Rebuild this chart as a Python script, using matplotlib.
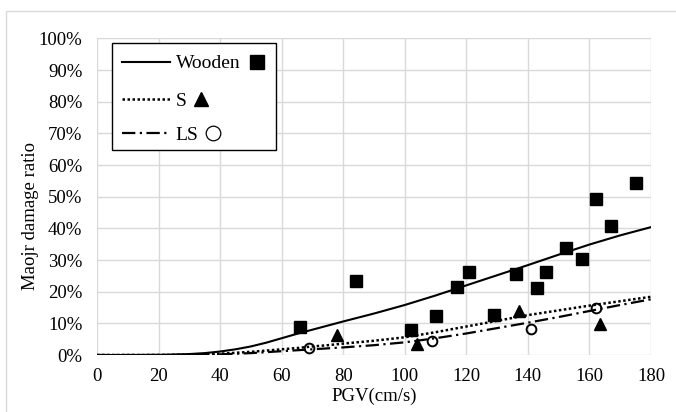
import matplotlib
matplotlib.use("Agg")
import matplotlib.pyplot as plt
from matplotlib.lines import Line2D
from matplotlib.patches import Rectangle

# ---- data ----
wood_pgv = [66, 84, 102, 110, 117, 121, 129, 136, 143, 146, 152.5, 157.5, 162, 167, 175]
wood_ratio = [0.09, 0.235, 0.08, 0.122, 0.216, 0.262, 0.125, 0.256, 0.212, 0.262, 0.339, 0.302, 0.493, 0.407, 0.545]

s_pgv = [78, 104, 137, 163.5]
s_ratio = [0.063, 0.036, 0.14, 0.097]

ls_pgv = [69, 109, 141, 162]
ls_ratio = [0.021, 0.043, 0.083, 0.15]

curve_pgv = [0, 10, 20, 25, 30, 35, 40, 45, 50, 55, 60, 65, 70, 75, 80, 90, 100, 110, 120, 130, 140, 150, 160, 170, 180]
wood_curve = [0, 0, 0.0005, 0.0015, 0.003, 0.006, 0.011, 0.018, 0.027, 0.039, 0.053, 0.067, 0.080, 0.093, 0.106, 0.131, 0.158, 0.188, 0.220, 0.252, 0.284, 0.317, 0.349, 0.378, 0.404]
s_curve = [0, 0, 0, 0.0005, 0.001, 0.002, 0.004, 0.007, 0.010, 0.014, 0.018, 0.022, 0.027, 0.031, 0.036, 0.045, 0.056, 0.072, 0.090, 0.108, 0.126, 0.141, 0.156, 0.170, 0.184]
ls_curve = [0, 0, 0, 0.0002, 0.0005, 0.001, 0.002, 0.004, 0.006, 0.009, 0.012, 0.015, 0.018, 0.021, 0.024, 0.031, 0.040, 0.053, 0.068, 0.085, 0.102, 0.120, 0.139, 0.158, 0.176]

x_ticks = [0, 20, 40, 60, 80, 100, 120, 140, 160, 180]
y_ticks = [0, 0.1, 0.2, 0.3, 0.4, 0.5, 0.6, 0.7, 0.8, 0.9, 1.0]
y_ticklabels = ["0%", "10%", "20%", "30%", "40%", "50%", "60%", "70%", "80%", "90%", "100%"]
legend_labels = ["Wooden", "S", "LS"]

plt.rcParams['font.family'] = ['Liberation Serif', 'DejaVu Sans']

W, H = 676, 412
fig = plt.figure(figsize=(W / 100, H / 100), dpi=100)


def fx(x):
    return x / W


def fy(y):
    return 1 - y / H


# chart area border
fig.patches.append(Rectangle((fx(6), -0.1), 1.2, (H - 11) / H + 0.1, transform=fig.transFigure,
                             facecolor='none', edgecolor='#d9d9d9', linewidth=1.0))

ax = fig.add_axes([fx(97), fy(355), (651 - 97) / W, (355 - 38.5) / H])
ax.set_xlim(0, 180)
ax.set_ylim(0, 1.0)
ax.set_xticks(x_ticks)
ax.set_yticks(y_ticks)
ax.set_yticklabels(y_ticklabels)
ax.tick_params(length=0, labelsize=13.5, colors='black')
ax.tick_params(axis='y', pad=10.5)
ax.tick_params(axis='x', pad=9.5)
ax.grid(True, color='#d9d9d9', linewidth=1.0)
ax.set_axisbelow(True)
for sp in ax.spines.values():
    sp.set_visible(False)

solid = '-'
dotted = (0, (1, 1))
dashdot = (0, (6, 2, 1, 2))

ax.plot(wood_pgv, wood_ratio, linestyle='none', marker='s', markersize=8.3,
        color='black', zorder=3)
ax.plot(s_pgv, s_ratio, linestyle='none', marker='^', markersize=8.3,
        color='black', zorder=3)
ax.plot(ls_pgv, ls_ratio, linestyle='none', marker='o', markersize=7,
        markerfacecolor='none', markeredgecolor='black', markeredgewidth=1.4, zorder=3)

ax.plot(curve_pgv, wood_curve, color='black', linewidth=1.5, linestyle=solid, zorder=4)
ax.plot(curve_pgv, s_curve, color='black', linewidth=1.8, linestyle=dotted, zorder=4)
ax.plot(curve_pgv, ls_curve, color='black', linewidth=1.6, linestyle=dashdot, zorder=4)

# ---- legend (built by hand so the symbols follow the text) ----
fig.patches.append(Rectangle((fx(112), fy(150)), (276 - 112) / W, (150 - 43) / H,
                             transform=fig.transFigure, facecolor='white',
                             edgecolor='black', linewidth=1.0, zorder=10))
rows_y = [62, 99, 133]
styles = [(solid, 1.5), (dotted, 1.8), (dashdot, 1.6)]
text_x = [176, 176, 175]
sym_x = [257, 200.5, 212.5]
sym_markers = [dict(marker='s', markersize=10, color='black'),
               dict(marker='^', markersize=10.5, color='black'),
               dict(marker='o', markersize=10.5, markerfacecolor='none',
                    markeredgecolor='black', markeredgewidth=0.9)]
for i, lab in enumerate(legend_labels):
    y = rows_y[i]
    ls, lw = styles[i]
    fig.add_artist(Line2D([fx(122), fx(170)], [fy(y), fy(y)], transform=fig.transFigure,
                          color='black', linestyle=ls, linewidth=lw, zorder=11))
    fig.text(fx(text_x[i]), fy(y + 6.5), lab, fontsize=14, va='baseline', ha='left',
             zorder=11)
    fig.add_artist(Line2D([fx(sym_x[i])], [fy(y)], transform=fig.transFigure,
                          linestyle='none', zorder=11, **sym_markers[i]))

ax.set_xlabel("PGV(cm/s)", fontsize=13.5, labelpad=2)
ax.set_ylabel("Maojr damage ratio", fontsize=13.5)
ax.yaxis.set_label_coords(-0.104, 0.44)

fig.savefig("out.png", dpi=100)
